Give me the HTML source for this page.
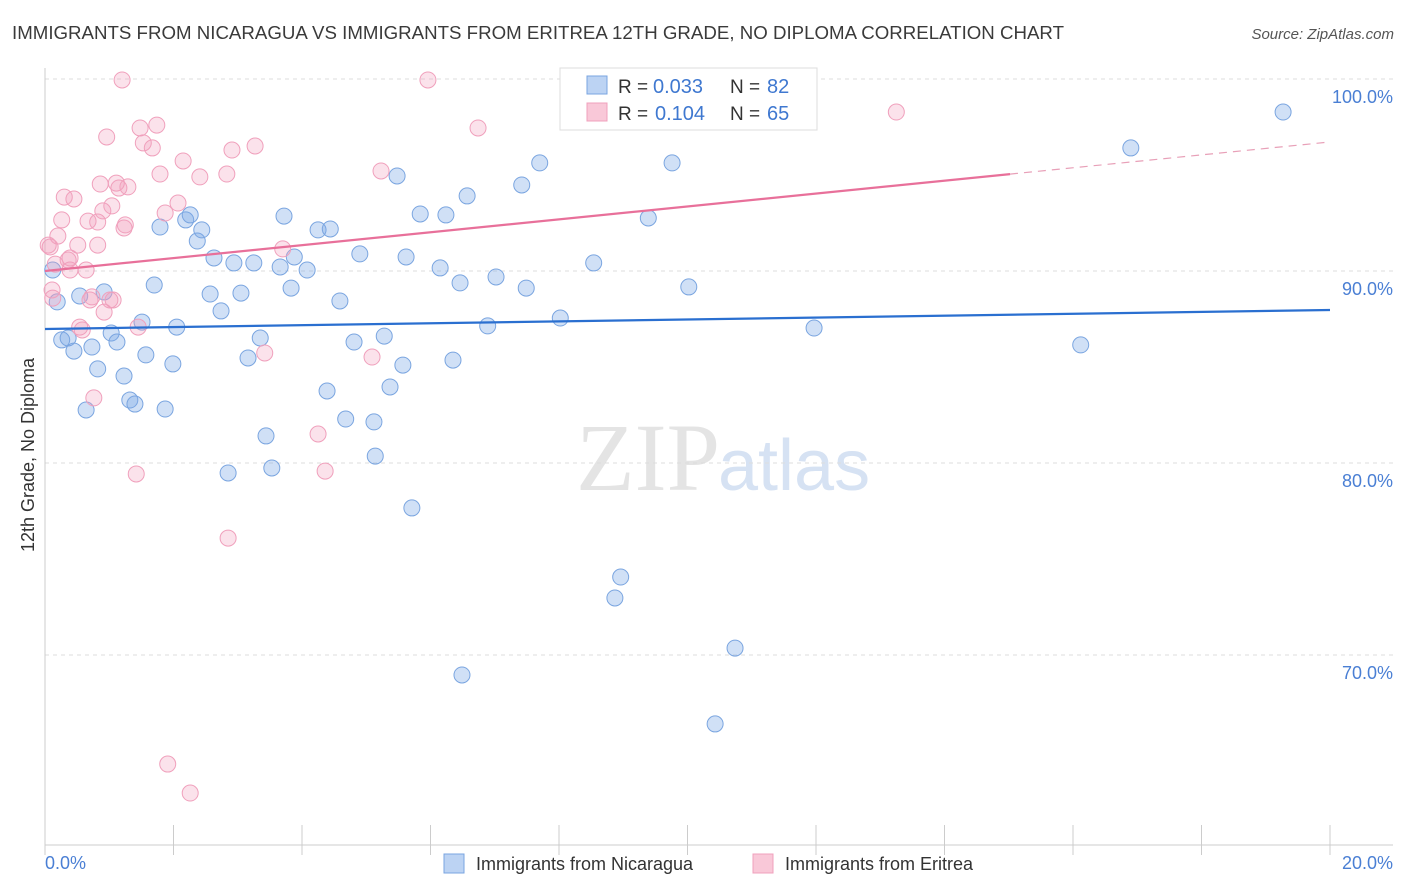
<!DOCTYPE html>
<html><head><meta charset="utf-8">
<style>
body{margin:0;background:#fff;font-family:"Liberation Sans",sans-serif;}
svg{display:block}
</style></head>
<body>
<svg id="chart" width="1406" height="892" xmlns="http://www.w3.org/2000/svg">
<text x="12" y="39" font-size="18.5" fill="#3a3a3a" textLength="1052" lengthAdjust="spacingAndGlyphs">IMMIGRANTS FROM NICARAGUA VS IMMIGRANTS FROM ERITREA 12TH GRADE, NO DIPLOMA CORRELATION CHART</text>
<text x="1394" y="39" font-size="15" fill="#555" font-style="italic" text-anchor="end">Source: ZipAtlas.com</text>
<text x="720" y="490" font-size="96" fill="#e4e4e4" text-anchor="end" font-family="Liberation Serif,serif">ZIP</text>
<text x="718" y="490" font-size="72" fill="#d6e2f3">atlas</text>
<g id="grid"></g>
<g id="axes"></g>
<g id="points"></g>
<g id="trends"></g>
<text transform="translate(34,455) rotate(-90)" font-size="18" fill="#333" text-anchor="middle">12th Grade, No Diploma</text>
<text x="45" y="869" font-size="18" fill="#4a7fd4">0.0%</text>
<text x="1393" y="869" font-size="18" fill="#4a7fd4" text-anchor="end">20.0%</text>
<g>
<rect x="560" y="68" width="257" height="62" fill="#fff" stroke="#ddd"/>
<rect x="587" y="76" width="20" height="18" fill="#bcd3f3" stroke="#7aa5e0"/>
<rect x="587" y="103" width="20" height="18" fill="#f9c8d8" stroke="#f0a0bc"/>
<text x="618" y="93" font-size="19" fill="#333">R =</text>
<text x="653" y="93" font-size="20" fill="#3f78d0">0.033</text>
<text x="730" y="93" font-size="19" fill="#333">N =</text>
<text x="767" y="93" font-size="20" fill="#3f78d0">82</text>
<text x="618" y="120" font-size="19" fill="#333">R =</text>
<text x="655" y="120" font-size="20" fill="#3f78d0">0.104</text>
<text x="730" y="120" font-size="19" fill="#333">N =</text>
<text x="767" y="120" font-size="20" fill="#3f78d0">65</text>
</g>
<g>
<rect x="444" y="854" width="20" height="19" fill="#bcd3f3" stroke="#7aa5e0"/>
<text x="476" y="870" font-size="18" fill="#333">Immigrants from Nicaragua</text>
<rect x="753" y="854" width="20" height="19" fill="#f9c8d8" stroke="#f0a0bc"/>
<text x="785" y="870" font-size="18" fill="#333">Immigrants from Eritrea</text>
</g>
</svg>
<script>
const yTicks=[70,80,90,100];
const yTickLabels=["70.0%","80.0%","90.0%","100.0%"];
const xTicks=[0,2,4,6,8,10,12,14,16,18,20];
const nicX=[.12,.19,.26,.36,.45,.54,.64,.73,.82,.92,1.03,1.12,1.23,1.32,1.40,1.51,1.57,1.70,1.79,1.87,1.99,2.05,2.19,2.26,2.37,2.44,2.57,2.63,2.74,2.85,2.94,3.05,3.16,3.25,3.35,3.44,3.53,3.66,3.72,3.83,3.88,4.08,4.25,4.39,4.44,4.59,4.68,4.81,4.90,5.12,5.14,5.28,5.37,5.48,5.57,5.62,5.71,5.84,6.15,6.24,6.35,6.46,6.49,6.57,6.89,7.02,7.42,7.49,7.70,8.02,8.54,8.87,8.96,9.39,9.76,10.02,10.43,10.74,11.97,16.12,16.90,19.27];
const nicY=[90.05,88.39,86.41,86.51,85.83,88.70,82.76,86.04,84.90,88.91,86.77,86.30,84.53,83.28,83.07,87.34,85.63,89.27,92.29,82.81,85.16,87.08,92.66,92.92,91.56,92.14,88.80,90.68,87.92,79.48,90.42,88.85,85.47,90.42,86.51,81.41,79.74,90.21,92.86,89.11,90.73,90.05,92.14,83.75,92.19,88.44,82.29,86.30,90.89,82.14,80.36,86.61,83.96,94.95,85.10,90.73,77.66,92.97,90.16,92.92,85.36,89.38,68.96,93.91,87.14,89.69,94.48,89.11,95.63,87.55,90.42,72.97,74.06,92.76,95.63,89.17,66.41,70.36,87.03,86.15,96.41,98.28];
const eriX=[.08,.12,.16,.20,.26,.30,.36,.39,.45,.51,.54,.58,.64,.67,.73,.76,.82,.82,.86,.90,.92,.96,1.04,1.06,1.11,1.15,1.20,1.23,1.25,1.29,1.42,1.45,1.48,1.53,1.67,1.74,1.79,1.87,1.91,2.07,2.15,2.26,2.41,2.83,2.85,2.91,3.27,3.42,3.70,4.25,4.36,5.09,5.23,5.96,6.74,13.25,.05,.11,.39,.70,1.01];
const eriY=[91.25,88.59,90.36,91.82,92.66,93.85,90.57,90.05,93.75,91.35,87.08,86.93,90.05,92.60,88.65,83.39,91.35,92.55,94.53,93.13,87.86,96.98,93.39,88.49,94.58,94.32,99.95,92.24,92.40,94.38,79.43,87.08,97.45,96.67,96.41,97.60,95.05,93.02,64.32,93.54,95.73,62.81,94.90,95.05,76.09,96.30,96.51,85.73,91.15,81.51,79.58,85.52,95.21,99.95,97.45,98.28,91.35,89.01,90.68,88.49,88.49];
const nicTrend=[86.98,0.0495];   // intercept, slope per %
const eriTrend=[90.0,0.336];
const eriSolidEnd=15.02;

const NS="http://www.w3.org/2000/svg";
const X=v=>45+v/20*1285;
const Y=v=>79+(100-v)*19.2;
function mk(tag,attrs,parent){const e=document.createElementNS(NS,tag);for(const k in attrs)e.setAttribute(k,attrs[k]);parent.appendChild(e);return e;}
const grid=document.getElementById('grid'),axes=document.getElementById('axes'),pts=document.getElementById('points'),tr=document.getElementById('trends');
yTicks.forEach((t,i)=>{
 const l=mk('line',{x1:45,x2:1393,y1:Y(t),y2:Y(t),stroke:'#ddd','stroke-dasharray':'4,4'},grid);
 
 
 const tx=mk('text',{x:1393,y:Y(t)+24,'font-size':18,fill:'#4a7fd4','text-anchor':'end'},grid);
 tx.textContent=yTickLabels[i];
 
 
});
let a=mk('line',{x1:45,x2:45,y1:68,y2:845,stroke:'#ccc'},axes);


a=mk('line',{x1:45,x2:1393,y1:845,y2:845,stroke:'#ccc'},axes);


xTicks.forEach(t=>{
 const l=mk('line',{x1:X(t),x2:X(t),y1:825,y2:855,stroke:'#ccc'},axes);
 
 
});
nicX.forEach((x,i)=>{
 const c=mk('circle',{cx:X(x),cy:Y(nicY[i]),r:8,fill:'rgba(120,165,230,0.35)',stroke:'#7aa5e0','stroke-width':1},pts);
 
 
});
eriX.forEach((x,i)=>{
 const c=mk('circle',{cx:X(x),cy:Y(eriY[i]),r:8,fill:'rgba(242,160,190,0.3)',stroke:'#f0a0bc','stroke-width':1},pts);
 
 
});
let t=mk('line',{x1:X(0),y1:Y(nicTrend[0]),x2:X(20),y2:Y(nicTrend[0]+nicTrend[1]*20),stroke:'#2a6fd0','stroke-width':2.2},tr);


t=mk('line',{x1:X(0),y1:Y(eriTrend[0]),x2:X(eriSolidEnd),y2:Y(eriTrend[0]+eriTrend[1]*eriSolidEnd),stroke:'#e8709a','stroke-width':2.2},tr);


t=mk('line',{x1:X(eriSolidEnd),y1:Y(eriTrend[0]+eriTrend[1]*eriSolidEnd),x2:X(20),y2:Y(eriTrend[0]+eriTrend[1]*20),stroke:'#e8a0b8','stroke-width':1.2,'stroke-dasharray':'8,6'},tr);


</script>
</body></html>
